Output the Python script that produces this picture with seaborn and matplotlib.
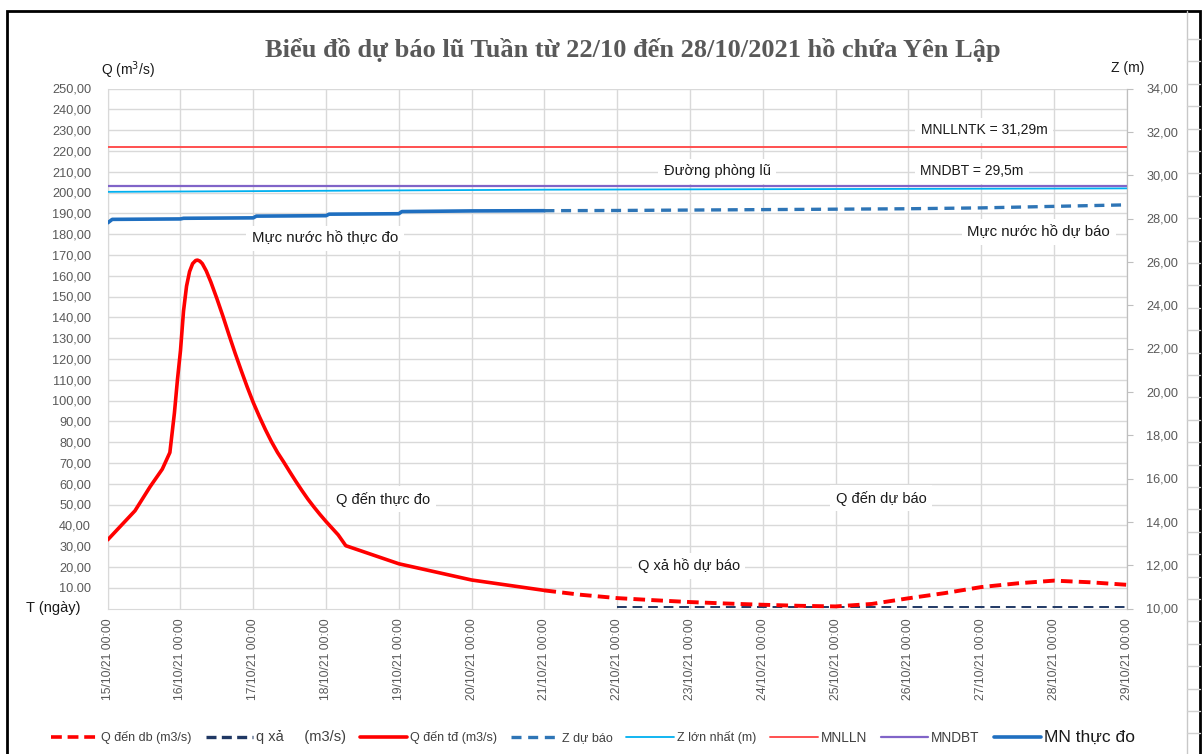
import matplotlib
matplotlib.use("Agg")
import matplotlib.pyplot as plt
import seaborn as sns
import pandas as pd
import numpy as np
from matplotlib.lines import Line2D
from matplotlib.patches import Rectangle

# ---------------- data ----------------
# hours counted from 15/10/21 00:00
q_td_hours = [0, 9, 14, 18, 20.5, 22, 23, 24, 25, 26, 27, 28, 29, 29.6, 30.4, 31.2, 32.5, 34,
              36, 38, 40, 42, 44, 46, 48, 50, 52, 54, 56, 58, 60, 62, 64, 66, 68, 70, 72,
              74, 76, 78.5, 96, 120, 144]
q_td_values = [33, 47, 58.6, 67, 75, 94, 110, 124, 143, 155, 162, 165.8, 167.3, 167.5, 167,
               165.8, 162.3, 157, 149, 140.5, 131.5, 122.8, 114.5, 106.5, 99, 92.3, 86, 80.2,
               75, 70.5, 65.8, 61.2, 56.8, 52.6, 48.8, 45.2, 41.8, 38.6, 35.4, 30.2, 21.5,
               13.7, 8.7]

q_db_hours = [144, 156, 168, 180, 192, 204, 216, 228, 240, 252, 264, 276, 288, 300, 312, 324, 336]
q_db_values = [8.7, 6.6, 5.0, 4.0, 3.1, 2.4, 1.8, 1.3, 1.0, 2.2, 4.9, 7.4, 10.3, 12.1, 13.4, 12.6, 11.4]

q_xa_hours = [168, 336]
q_xa_values = [0.8, 0.8]

mn_td_hours = [0, 1.5, 24, 25, 48, 49, 72, 73, 96, 97, 120, 144]
mn_td_values = [27.80, 27.96, 27.98, 28.01, 28.03, 28.11, 28.13, 28.20, 28.22, 28.32, 28.35, 28.36]

z_db_hours = [144, 168, 192, 216, 240, 264, 288, 312, 336]
z_db_values = [28.36, 28.37, 28.39, 28.41, 28.43, 28.45, 28.49, 28.56, 28.63]

z_max_hours = [0, 72, 144, 240, 336]
z_max_values = [29.23, 29.28, 29.33, 29.36, 29.39]

mnlln_hours = [0, 336]
mnlln_values = [31.29, 31.29]
mndbt_hours = [0, 336]
mndbt_values = [29.5, 29.5]

x_tick_hours = list(range(0, 337, 24))
x_tick_labels = [f"{d}/10/21 00:00" for d in range(15, 30)]

title = "Biểu đồ dự báo lũ Tuần từ 22/10 đến 28/10/2021 hồ chứa Yên Lập"

# ---------------- style ----------------
sns.set_style("white")
plt.rcParams['font.family'] = ['Liberation Sans', 'DejaVu Sans']

W, H = 1203, 754
fig = plt.figure(figsize=(W / 100, H / 100), dpi=100)
fig.patch.set_facecolor("white")

def fx(px):
    return px / W

def fy(py):
    return 1 - py / H

L, R, T, B = 107.7, 1126.7, 88.5, 608.5
ax = fig.add_axes([fx(L), fy(B), fx(R) - fx(L), fy(T) - fy(B)])
ax2 = ax.twinx()
ax.set_zorder(1)
ax2.set_zorder(2)
ax.patch.set_visible(True)
ax2.patch.set_visible(False)

grid_c = "#D9D9D9"
tick_c = "#595959"

C_RED = "#FF0000"
C_NAVY = "#203864"
C_BLUE = "#2E75B6"
C_MN = "#1F6FC0"
C_CYAN = "#00B0F0"
C_MNLLN = "#FF5050"
C_MNDBT = "#8064C8"

def df(h, v):
    return pd.DataFrame({"gio": h, "val": v})

# left axis (Q)
sns.lineplot(data=df(q_td_hours, q_td_values), x="gio", y="val", ax=ax, color=C_RED,
             linewidth=2.6, legend=False, zorder=5)
sns.lineplot(data=df(q_db_hours, q_db_values), x="gio", y="val", ax=ax, color=C_RED,
             linewidth=2.8, linestyle=(0, (3, 1.6)), legend=False, zorder=5)
sns.lineplot(data=df(q_xa_hours, q_xa_values), x="gio", y="val", ax=ax, color=C_NAVY,
             linewidth=1.4, linestyle=(0, (5, 3)), legend=False, zorder=4)

# right axis (Z)
sns.lineplot(data=df(mnlln_hours, mnlln_values), x="gio", y="val", ax=ax2, color=C_MNLLN,
             linewidth=1.4, legend=False)
sns.lineplot(data=df(mndbt_hours, mndbt_values), x="gio", y="val", ax=ax2, color=C_MNDBT,
             linewidth=1.6, legend=False)
sns.lineplot(data=df(z_max_hours, z_max_values), x="gio", y="val", ax=ax2, color=C_CYAN,
             linewidth=1.3, legend=False)
sns.lineplot(data=df(mn_td_hours, mn_td_values), x="gio", y="val", ax=ax2, color=C_MN,
             linewidth=2.6, legend=False)
sns.lineplot(data=df(z_db_hours, z_db_values), x="gio", y="val", ax=ax2, color=C_BLUE,
             linewidth=2.4, linestyle=(0, (3, 2)), legend=False)

# axes limits & ticks
ax.set_xlim(0, 336)
ax.set_ylim(0, 250)
ax2.set_ylim(10, 34)
ax.set_xticks(x_tick_hours)
ax.set_xticklabels(x_tick_labels, rotation=90, fontsize=8.8, color=tick_c)
lt = list(range(10, 251, 10))
ax.set_yticks(lt)
ax.set_yticklabels([("10.00" if v == 10 else f"{v:.2f}".replace(".", ",")) for v in lt],
                   fontsize=9.2, color=tick_c)
rt = list(range(10, 35, 2))
ax2.set_yticks(rt)
ax2.set_yticklabels([f"{v:.2f}".replace(".", ",") for v in rt], fontsize=9.2, color=tick_c)
ax.set_xlabel("")
ax.set_ylabel("")
ax2.set_ylabel("")

ax.grid(True, color=grid_c, linewidth=1.0)
ax.set_axisbelow(True)
ax.tick_params(axis="y", length=0, pad=12)
ax.tick_params(axis="x", length=0, pad=7)
ax2.tick_params(axis="y", length=4, color="#BFBFBF", pad=10, direction="out")
for a in (ax, ax2):
    a.spines["top"].set_visible(False)
    a.spines["left"].set_color(grid_c)
    a.spines["bottom"].set_color(grid_c)
    a.spines["right"].set_color("#BFBFBF")
ax2.spines["left"].set_visible(False)
ax2.spines["bottom"].set_visible(False)

# in-chart labels (white boxes)
box = dict(facecolor="white", edgecolor="none", pad=4)
labels = [
    ("Mực nước hồ thực đo", 71.6, 178, 10.8),
    ("Đường phòng lũ", 201, 210.3, 10.5),
    ("MNLLNTK = 31,29m", 289, 230, 10),
    ("MNDBT = 29,5m", 285, 210.3, 10),
    ("Mực nước hồ dự báo", 307, 181, 10.8),
    ("Q đến thực đo", 90.8, 52.6, 10.5),
    ("Q đến dự báo", 255, 53, 10.5),
    ("Q xả hồ dự báo", 191.6, 20.4, 10.5),
]
for txt, xh, yq, fs in labels:
    ax2.text(xh, yq, txt, transform=ax.transData, ha="center", va="center",
             fontsize=fs, color="#1a1a1a", bbox=box, zorder=10)

# title & axis captions
fig.text(fx(633), fy(50), title, ha="center", va="center", fontsize=19,
         fontweight="bold", color="#595959", family=["Liberation Serif", "DejaVu Serif"])
fig.text(fx(128), fy(70), "Q (m$^3$/s)", ha="center", va="center", fontsize=10, color="#1a1a1a")
fig.text(fx(1128), fy(68), "Z (m)", ha="center", va="center", fontsize=10, color="#1a1a1a")
fig.text(fx(80), fy(608), "T (ngày)", ha="right", va="center", fontsize=10.5, color="#1a1a1a")

# legend
handles = [
    Line2D([], [], color=C_RED, lw=2.6, linestyle=(0, (3, 1.6))),
    Line2D([], [], color=C_NAVY, lw=2.4, linestyle=(0, (3, 1.6))),
    Line2D([], [], color=C_RED, lw=2.6),
    Line2D([], [], color=C_BLUE, lw=2.4, linestyle=(0, (3, 2))),
    Line2D([], [], color=C_CYAN, lw=1.3),
    Line2D([], [], color=C_MNLLN, lw=1.4),
    Line2D([], [], color=C_MNDBT, lw=1.6),
    Line2D([], [], color=C_MN, lw=2.6),
]
names = ["Q đến db (m3/s)", "q xả     (m3/s)", "Q đến tđ (m3/s)", "Z dự báo",
         "Z lớn nhất (m)", "MNLLN", "MNDBT", "MN thực đo"]
leg = fig.legend(handles, names, loc="center", bbox_to_anchor=(fx(593), fy(737)), ncol=8,
                 frameon=False, fontsize=9, handlelength=3.8, handletextpad=0.25,
                 columnspacing=1.1, labelcolor="#404040")
leg.get_texts()[1].set_fontsize(10.5)
leg.get_texts()[5].set_fontsize(9.8)
leg.get_texts()[6].set_fontsize(9.8)
leg.get_texts()[7].set_fontsize(12.5)
leg.get_texts()[7].set_color("#1a1a1a")

# outer frame and spreadsheet cell lines at the right
fig.add_artist(Rectangle((fx(7), fy(760)), fx(1200) - fx(7), fy(11) - fy(760),
                         transform=fig.transFigure, fill=False, edgecolor="black", lw=2))
fig.add_artist(Line2D([fx(1187), fx(1187)], [fy(11), 0], transform=fig.transFigure,
                      color="#C8C8C8", lw=1))
for yy in np.arange(39, 754, 22.4):
    fig.add_artist(Line2D([fx(1187), fx(1200)], [fy(yy), fy(yy)], transform=fig.transFigure,
                          color="#D0D0D0", lw=1))

fig.savefig("out.png", dpi=100, facecolor="white")
